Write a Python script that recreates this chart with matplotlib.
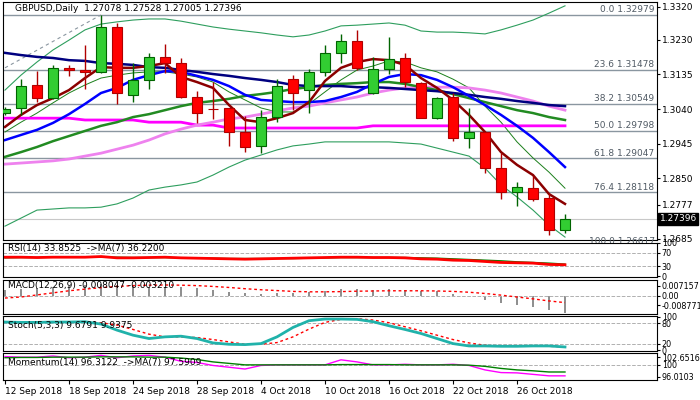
import matplotlib
matplotlib.use("Agg")
import matplotlib.pyplot as plt
import numpy as np

opens  = [1.3029,1.3043,1.3106,1.3070,1.3153,1.3147,1.3142,1.3265,1.3079,1.3120,1.3183,1.3166,1.3073,1.3040,1.3043,1.2977,1.2939,1.3018,
          1.3122,1.3092,1.3142,1.3194,1.3227,1.3084,1.3150,1.3180,1.3111,1.3015,1.3073,1.2961,1.2977,1.2878,1.2812,1.2823,1.2796,1.27078]
highs  = [1.3046,1.3122,1.3144,1.3161,1.3161,1.3216,1.3298,1.3276,1.3166,1.3194,1.3218,1.3180,1.3089,1.3114,1.3043,1.3021,1.3037,1.3122,
          1.3133,1.3150,1.3216,1.3246,1.3257,1.3183,1.3238,1.3194,1.3114,1.3073,1.3084,1.3043,1.2977,1.2919,1.2840,1.2856,1.2810,1.27528]
lows   = [1.3024,1.3024,1.3059,1.3068,1.3131,1.3095,1.3139,1.3054,1.3059,1.3095,1.3139,1.3070,1.3002,1.3013,1.2939,1.2922,1.2919,1.3004,
          1.3037,1.3029,1.3131,1.3166,1.3147,1.3081,1.3136,1.3100,1.3015,1.3013,1.2952,1.2933,1.2865,1.2793,1.2774,1.2788,1.2695,1.27005]
closes = [1.3040,1.3103,1.3070,1.3153,1.3147,1.3142,1.3265,1.3084,1.3120,1.3183,1.3166,1.3073,1.3029,1.3039,1.2977,1.2936,1.3018,1.3103,
          1.3084,1.3142,1.3194,1.3227,1.3153,1.3150,1.3177,1.3114,1.3015,1.3070,1.2961,1.2977,1.2878,1.2812,1.2826,1.2793,1.2708,1.27396]

ma_fast = [1.2991,1.3024,1.3051,1.3070,1.3092,1.3125,1.3155,1.3153,1.3153,1.3158,1.3166,1.3128,1.3114,1.3098,1.3051,1.3010,1.3004,1.3015,
           1.3029,1.3059,1.3117,1.3153,1.3169,1.3177,1.3174,1.3161,1.3125,1.3098,1.3065,1.3024,1.2977,1.2922,1.2887,1.2859,1.2807,1.2780]
ma_blue = [1.2955,1.2969,1.2983,1.3002,1.3026,1.3054,1.3084,1.3098,1.3120,1.3133,1.3144,1.3142,1.3131,1.3120,1.3103,1.3079,1.3065,1.3062,
           1.3059,1.3059,1.3062,1.3073,1.3087,1.3109,1.3128,1.3136,1.3133,1.3120,1.3100,1.3076,1.3051,1.3024,1.2994,1.2961,1.2922,1.2881]
ma_navy = [1.3194,1.3188,1.3183,1.3180,1.3174,1.3172,1.3166,1.3164,1.3161,1.3155,1.3153,1.3147,1.3142,1.3136,1.3131,1.3125,1.3120,1.3114,
           1.3106,1.3103,1.3103,1.3103,1.3100,1.3100,1.3098,1.3095,1.3092,1.3089,1.3084,1.3079,1.3073,1.3068,1.3062,1.3057,1.3051,1.3048]
ma_green = [1.2909,1.2922,1.2936,1.2952,1.2966,1.2980,1.2994,1.3004,1.3018,1.3026,1.3037,1.3048,1.3057,1.3062,1.3068,1.3076,1.3081,1.3087,
            1.3095,1.3100,1.3106,1.3109,1.3111,1.3114,1.3114,1.3109,1.3100,1.3092,1.3081,1.3070,1.3059,1.3048,1.3037,1.3029,1.3018,1.3010]
ma_violet = [1.2889,1.2892,1.2895,1.2898,1.2903,1.2911,1.2919,1.2930,1.2941,1.2955,1.2972,1.2985,1.2996,1.3004,1.3013,1.3018,1.3026,1.3035,
             1.3043,1.3048,1.3057,1.3065,1.3073,1.3084,1.3092,1.3098,1.3100,1.3100,1.3100,1.3098,1.3092,1.3084,1.3073,1.3062,1.3048,1.3037]
ma_magenta = [1.3015]*5 + [1.3010]*4 + [1.3004]*3 + [1.2996]*2 + [1.2988]*9 + [1.2994]*13
bb_upper = [1.3092,1.3133,1.3169,1.3202,1.3229,1.3257,1.3273,1.3279,1.3284,1.3287,1.3287,1.3281,1.3273,1.3265,1.3259,1.3254,1.3249,1.3243,
            1.3238,1.3243,1.3254,1.3268,1.3270,1.3273,1.3276,1.3270,1.3254,1.3251,1.3251,1.3249,1.3246,1.3257,1.3270,1.3284,1.3303,1.3323]
bb_lower = [1.2719,1.2741,1.2763,1.2766,1.2769,1.2769,1.2771,1.2780,1.2796,1.2818,1.2826,1.2832,1.2840,1.2859,1.2881,1.2900,1.2914,1.2928,
            1.2939,1.2944,1.2950,1.2950,1.2950,1.2950,1.2950,1.2947,1.2944,1.2933,1.2922,1.2911,1.2878,1.2832,1.2799,1.2763,1.2722,1.2689]
ma_thin = [1.2977,1.3004,1.3029,1.3057,1.3084,1.3106,1.3125,1.3133,1.3139,1.3142,1.3142,1.3136,1.3128,1.3114,1.3087,1.3065,1.3043,1.3032,
           1.3032,1.3054,1.3087,1.3120,1.3147,1.3158,1.3172,1.3169,1.3153,1.3142,1.3122,1.3098,1.3048,1.3004,1.2950,1.2906,1.2867,1.2823]

fib_levels = ["0.0", "23.6", "38.2", "50.0", "61.8", "76.4", "100.0"]
fib_prices = [1.32979, 1.31478, 1.30549, 1.29798, 1.29047, 1.28118, 1.26617]
trend_idx = [0, 6]
trend_px = [1.3153, 1.3298]
price_ticks = [1.3320, 1.3230, 1.3135, 1.3040, 1.2945, 1.2850, 1.2777, 1.2685]

rsi = [57,57,56,57,57,57,59,55,55,56,57,55,54,53,52,51,52,53,54,55,56,57,57,56,56,55,52,51,48,47,44,41,40,39,35,34]
rsi_ma = [55,56,56,57,57,57,57,57,56,56,56,55,55,54,53,53,53,53,53,54,55,56,56,56,56,56,55,54,52,50,48,46,43,41,39,36]
macd_hist = [0.0030,0.0035,0.0040,0.0045,0.0050,0.0052,0.0058,0.0055,0.0050,0.0045,0.0042,0.0045,0.0040,0.0030,0.0020,0.0015,0.0010,0.0012,
             0.0015,0.0018,0.0022,0.0032,0.0035,0.0030,0.0032,0.0030,0.0025,0.0022,0.0010,0.0002,-0.0019,-0.0035,-0.0043,-0.0051,-0.0067,-0.0080]
macd_signal = [-0.0010,-0.0005,0.0005,0.0015,0.0025,0.0033,0.0040,0.0046,0.0050,0.0052,0.0053,0.0052,0.0050,0.0046,0.0041,0.0035,0.0030,0.0026,
               0.0022,0.0020,0.0020,0.0021,0.0023,0.0024,0.0025,0.0025,0.0025,0.0024,0.0022,0.0018,0.0012,0.0004,-0.0005,-0.0014,-0.0024,-0.0032]
stoch_k = [84,83,83,84,84,85,78,60,45,35,40,42,35,22,18,17,20,40,68,88,93,93,92,85,73,62,50,35,20,13,13,12,12,13,13,10]
stoch_d = [85,85,84,84,84,84,82,75,62,48,40,40,38,32,25,18,18,23,40,63,83,92,94,90,82,70,58,45,32,22,15,12,12,12,12,10]
momentum = [102.8,102.6,102.6,103.0,102.4,102.6,103.2,102.4,103.0,103.2,102.6,101.2,100.8,99.8,99.2,98.6,99.8,100.0,
            100.0,100.0,100.0,101.7,101.0,100.0,100.0,100.2,100.0,100.0,100.2,99.8,98.3,97.4,97.3,96.8,96.3,96.3]
momentum_ma = [102.4,102.5,102.5,102.6,102.6,102.6,102.7,102.7,102.7,102.6,102.6,102.3,101.8,101.0,100.5,100.0,100.0,100.0,
               100.0,100.0,100.0,100.1,100.1,100.1,100.1,100.0,100.0,100.0,100.0,99.9,99.5,98.8,98.3,98.0,97.6,97.6]
date_idx = [0, 4, 8, 12, 16, 20, 24, 28, 32]
date_labels = ["12 Sep 2018","18 Sep 2018","24 Sep 2018","28 Sep 2018","4 Oct 2018","10 Oct 2018","16 Oct 2018","22 Oct 2018","26 Oct 2018"]

FS = 6.5
FSR = 5.8
fig = plt.figure(figsize=(7, 4), dpi=100)
W = 654/700
L = 3/700
XL = (-0.125, 40.75)
x = np.arange(len(closes))

def mk(top, bot):
    a = fig.add_axes([L, 1-bot/400, W, (bot-top)/400])
    a.set_xlim(*XL)
    a.set_xticks([]); a.set_yticks([])
    for s in a.spines.values():
        s.set_linewidth(0.8)
    return a

def rticks(a, vals, labels, fs=FSR):
    a.yaxis.tick_right()
    a.set_yticks(vals)
    a.set_yticklabels(labels, fontsize=fs)
    a.tick_params(axis="y", length=2, pad=1.5)

ax = mk(2, 240)
ylo, yhi = 1.2681, 1.33335
ax.set_ylim(ylo, yhi)
for lv, p in zip(fib_levels, fib_prices):
    ax.axhline(p, color="#8a96a0", lw=1.0, zorder=1)
    ax.text(40.6, p + 0.0002, f"{lv} {p:.5f}", ha="right", va="bottom", fontsize=FS, color="#505a64", zorder=6)
ax.axhline(closes[-1], color="#c8c8c8", lw=0.8, zorder=1)
ax.plot(trend_idx, trend_px, color="#8a96a0", lw=0.8, ls=(0, (3, 3)), zorder=1)
ax.plot(x, bb_upper, color="#2e9e5e", lw=0.8, zorder=2)
ax.plot(x, bb_lower, color="#2e9e5e", lw=0.8, zorder=2)
ax.plot(x, ma_thin, color="#1a7f1a", lw=0.7, zorder=2)
ax.plot(x, ma_magenta, color="#ff00ff", lw=2, zorder=2)
ax.plot(x, ma_violet, color="#ee82ee", lw=2, zorder=2)
ax.plot(x, ma_green, color="#228b22", lw=1.8, zorder=2)
ax.plot(x, ma_navy, color="#000080", lw=1.8, zorder=2)
ax.plot(x, ma_blue, color="#0000ff", lw=1.8, zorder=2)
ax.plot(x, ma_fast, color="#8b0000", lw=1.8, zorder=2)
for i in range(len(closes)):
    o, h, l, c = opens[i], highs[i], lows[i], closes[i]
    up = c >= o
    fc = "#32cd32" if up else "#ff0000"
    ec = "#006400" if up else "#b00000"
    ax.vlines(i, l, h, color=ec, lw=1, zorder=3)
    hgt = max(abs(c-o), 0.00012)
    ax.bar(i, hgt, bottom=min(o, c), width=0.62, color=fc, edgecolor=ec, lw=0.8, zorder=4)
ax.text(0.6, 1.3315, "GBPUSD,Daily  1.27078 1.27528 1.27005 1.27396", fontsize=FS, va="center", zorder=6)
rticks(ax, price_ticks, [f"{t:.4f}" for t in price_ticks], FS)
ax.text(1.004, (closes[-1]-ylo)/(yhi-ylo), f"{closes[-1]:.5f}", transform=ax.transAxes,
        fontsize=FS, color="white", va="center", ha="left", bbox=dict(fc="black", ec="black", pad=1.2))

# RSI
a1 = mk(243, 277)
a1.set_ylim(-3, 100)
for v in (70, 30):
    a1.axhline(v, color="#b0b0b0", lw=0.7, ls="--")
a1.plot(x, rsi_ma, color="#008000", lw=1)
a1.plot(x, rsi, color="#ff0000", lw=2)
a1.text(0.2, 84, "RSI(14) 33.8525  ->MA(7) 36.2200", fontsize=FS, va="center")
rticks(a1, [100, 70, 30, 0], ["100", "70", "30", "0"])

# MACD
a2 = mk(280, 314)
a2.set_ylim(-0.0087, 0.0077)
a2.axhline(0, color="#b0b0b0", lw=0.7, ls="--")
a2.bar(x, macd_hist, width=0.15, color="#909090")
a2.plot(x, macd_signal, color="#ff0000", lw=1, ls=(0, (2, 2)))
a2.text(0.2, 0.0052, "MACD(12,26,9) -0.008047 -0.003210", fontsize=FS, va="center")
rticks(a2, [0.0050, 0.0, -0.0045], ["0.007157", "0.00", "-0.008771"])

# Stoch
a3 = mk(316, 351)
a3.set_ylim(-2, 102)
for v in (80, 20):
    a3.axhline(v, color="#b0b0b0", lw=0.7, ls="--")
a3.plot(x, stoch_d, color="#ff0000", lw=1, ls=(0, (2, 2)))
a3.plot(x, stoch_k, color="#20b2aa", lw=2)
a3.text(0.2, 75, "Stoch(5,3,3) 9.6791 9.9375", fontsize=FS, va="center")
rticks(a3, [100, 80, 20, 0], ["100", "80", "20", "0"])

# Momentum
a4 = mk(353, 380)
a4.set_ylim(94.9, 104.0)
a4.axhline(100, color="#b0b0b0", lw=0.7, ls="--")
a4.plot(x, momentum, color="#ff00ff", lw=1)
a4.plot(x, momentum_ma, color="#008000", lw=1)
a4.text(0.2, 100.8, "Momentum(14) 96.3122  ->MA(7) 97.5909", fontsize=FS, va="center")
rticks(a4, [102.6516, 100, 96.0103], ["102.6516", "100", "96.0103"])
a4.set_xticks(date_idx)
a4.set_xticklabels(date_labels, fontsize=FS, ha="left")
a4.tick_params(axis="x", length=3, pad=2)

fig.savefig("out.png", dpi=100, facecolor="white")
